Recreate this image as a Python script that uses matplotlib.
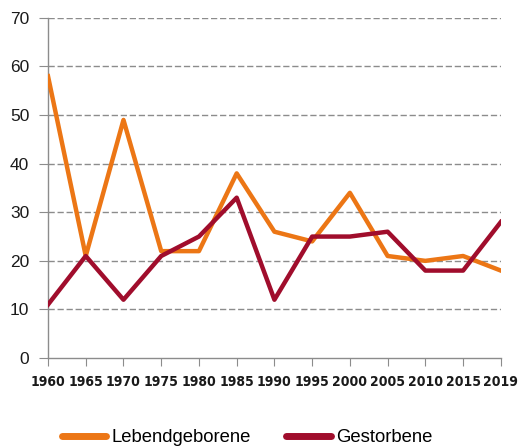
import matplotlib
matplotlib.use("Agg")
import matplotlib.pyplot as plt
from matplotlib.lines import Line2D

years = ["1960", "1965", "1970", "1975", "1980", "1985", "1990",
         "1995", "2000", "2005", "2010", "2015", "2019"]
lebendgeborene = [58, 21, 49, 22, 22, 38, 26, 24, 34, 21, 20, 21, 18]
gestorbene = [11, 21, 12, 21, 25, 33, 12, 25, 25, 26, 18, 18, 28]
y_ticks = [0, 10, 20, 30, 40, 50, 60, 70]

orange = "#EC7615"
darkred = "#A00D2C"
grey = "#8c8c8c"

plt.rcParams["font.family"] = ["Liberation Sans", "DejaVu Sans"]

fig = plt.figure(figsize=(5.19, 4.47), dpi=100)
ax = fig.add_axes([0.0925, 0.199, 0.8725, 0.761])

x = list(range(len(years)))
ax.plot(x, lebendgeborene, color=orange, lw=3.2, zorder=3)
ax.plot(x, gestorbene, color=darkred, lw=3.2, zorder=4)

ax.set_xlim(0, len(years) - 1)
ax.set_ylim(0, 70)
ax.set_yticks(y_ticks)
ax.set_xticks(x)
ax.set_xticklabels(years, family="DejaVu Sans", fontstretch="condensed",
                   fontweight="bold", fontsize=10)
ax.tick_params(axis="y", labelsize=12.5, length=6.5, color=grey, pad=7,
               labelcolor="#1a1a1a")
ax.tick_params(axis="x", length=6, color=grey, pad=6, labelcolor="#1a1a1a")

for v in y_ticks[1:]:
    ax.axhline(v, color=grey, lw=1, ls=(0, (4.5, 2)), zorder=1)

for s in ["top", "right"]:
    ax.spines[s].set_visible(False)
for s in ["left", "bottom"]:
    ax.spines[s].set_color(grey)
    ax.spines[s].set_linewidth(1)

handles = [Line2D([], [], color=orange, lw=5, solid_capstyle="round"),
           Line2D([], [], color=darkred, lw=5, solid_capstyle="round")]
fig.legend(handles, ["Lebendgeborene", "Gestorbene"], loc="center left",
           bbox_to_anchor=(62 / 519, 1 - 438 / 447), ncol=2, frameon=False,
           fontsize=13.3, handlelength=2.4, handletextpad=0.3,
           columnspacing=1.9, borderpad=0, borderaxespad=0)

fig.savefig("out.png", dpi=100)
